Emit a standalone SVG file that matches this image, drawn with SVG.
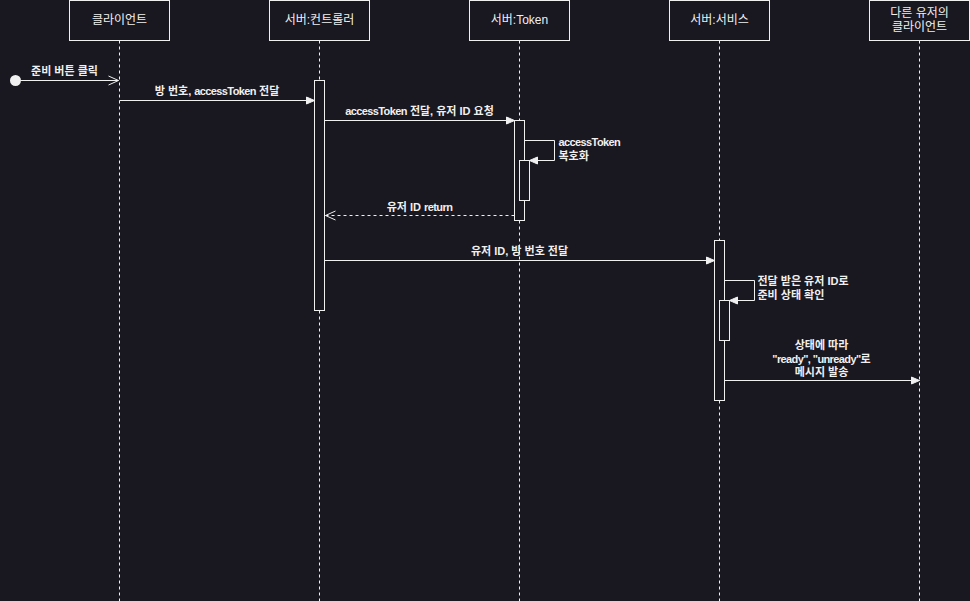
<svg xmlns="http://www.w3.org/2000/svg" width="970" height="601" viewBox="0 0 970 601">
<style>
.bg{fill:#19171f}
.box{fill:#19171f;stroke:#f0f0f0;stroke-width:1}
.life{stroke:#f0f0f0;stroke-width:1;stroke-dasharray:3 3;fill:none}
.act{fill:#19171f;stroke:#f0f0f0;stroke-width:1}
.msg{stroke:#f0f0f0;stroke-width:1;fill:none}
.ret{stroke:#f0f0f0;stroke-width:1;fill:none;stroke-dasharray:3 3}
.h{font-family:"Liberation Sans","Noto Sans CJK KR",sans-serif;font-size:12px;fill:#f0f0f0;text-anchor:middle}
.t{font-family:"Liberation Sans","Noto Sans CJK KR",sans-serif;font-size:11px;font-weight:bold;fill:#f0f0f0;text-anchor:middle}
.tl{text-anchor:start}
.n{letter-spacing:-0.6px}
</style>
<defs>
<marker id="block" markerUnits="userSpaceOnUse" markerWidth="10" markerHeight="10" refX="8" refY="3.5" orient="auto" overflow="visible">
<path d="M0,0 L8,3.5 L0,7 z" fill="#f0f0f0" stroke="#f0f0f0" stroke-width="1"/>
</marker>
<marker id="open" markerUnits="userSpaceOnUse" markerWidth="12" markerHeight="12" refX="10" refY="4.5" orient="auto" overflow="visible">
<path d="M0,0 L10,4.5 L0,9" fill="none" stroke="#f0f0f0" stroke-width="1"/>
</marker>
</defs>
<rect class="bg" x="0" y="0" width="970" height="601"/>
<g transform="translate(-0.5,0.5)">
<g id="lifelines">
<line class="life" x1="120" y1="40" x2="120" y2="601"/>
<line class="life" x1="320" y1="40" x2="320" y2="601"/>
<line class="life" x1="520" y1="40" x2="520" y2="601"/>
<line class="life" x1="720" y1="40" x2="720" y2="601"/>
<line class="life" x1="920" y1="40" x2="920" y2="601"/>
</g>
<g id="node-client">
<rect class="box" x="70" y="0" width="100" height="40"/>
<text class="h" x="120" y="23.5">클라이언트</text>
</g>
<g id="node-controller">
<rect class="box" x="270" y="0" width="100" height="40"/>
<text class="h" x="320" y="23.5">서버:컨트롤러</text>
</g>
<g id="node-token">
<rect class="box" x="470" y="0" width="100" height="40"/>
<text class="h" x="520" y="23.5">서버:Token</text>
</g>
<g id="node-service">
<rect class="box" x="670" y="0" width="100" height="40"/>
<text class="h" x="720" y="23.5">서버:서비스</text>
</g>
<g id="node-other">
<rect class="box" x="870" y="0" width="100" height="40"/>
<text class="h" x="920" y="16.5">다른 유저의</text>
<text class="h" x="920" y="30">클라이언트</text>
</g>
<g id="activations">
<rect class="act" x="315" y="80" width="10" height="230"/>
<rect class="act" x="515" y="120" width="10" height="100"/>
<rect class="act" x="520" y="160" width="10" height="40"/>
<rect class="act" x="715" y="240" width="10" height="160"/>
<rect class="act" x="720" y="300" width="10" height="40"/>
</g>
<g id="connectors">
<circle cx="16" cy="80" r="5.5" fill="#f0f0f0"/>
<line class="msg" x1="21" y1="80" x2="119" y2="80" marker-end="url(#open)"/>
<line class="msg" x1="120" y1="100" x2="315" y2="100" marker-end="url(#block)"/>
<line class="msg" x1="325" y1="120" x2="515" y2="120" marker-end="url(#block)"/>
<polyline class="msg" points="525,140 555,140 555,160 530,160" marker-end="url(#block)"/>
<line class="ret" x1="515" y1="215" x2="326" y2="215" marker-end="url(#open)"/>
<line class="msg" x1="325" y1="260" x2="715" y2="260" marker-end="url(#block)"/>
<polyline class="msg" points="725,280 755,280 755,300 730,300" marker-end="url(#block)"/>
<line class="msg" x1="725" y1="380" x2="920" y2="380" marker-end="url(#block)"/>
</g>
<g id="labels">
<text class="t" x="65" y="74.5">준비 버튼 클릭</text>
<text class="t" x="217.5" y="94.5">방 번호, <tspan class="n">accessToken</tspan> 전달</text>
<text class="t" x="420" y="114.5"><tspan class="n">accessToken</tspan> 전달, 유저 ID 요청</text>
<text class="t tl" x="559" y="145.5"><tspan class="n">accessToken</tspan></text>
<text class="t tl" x="559" y="159">복호화</text>
<text class="t" x="420" y="210">유저 ID <tspan class="n">return</tspan></text>
<text class="t" x="520" y="254.5">유저 ID, 방 번호 전달</text>
<text class="t tl" x="758" y="284.5">전달 받은 유저 ID로</text>
<text class="t tl" x="758" y="298">준비 상태 확인</text>
<text class="t" x="822" y="348">상태에 따라</text>
<text class="t" x="822" y="362"><tspan class="n">"ready", "unready"</tspan>로</text>
<text class="t" x="822" y="375.5">메시지 발송</text>
</g>
</g>
</svg>
